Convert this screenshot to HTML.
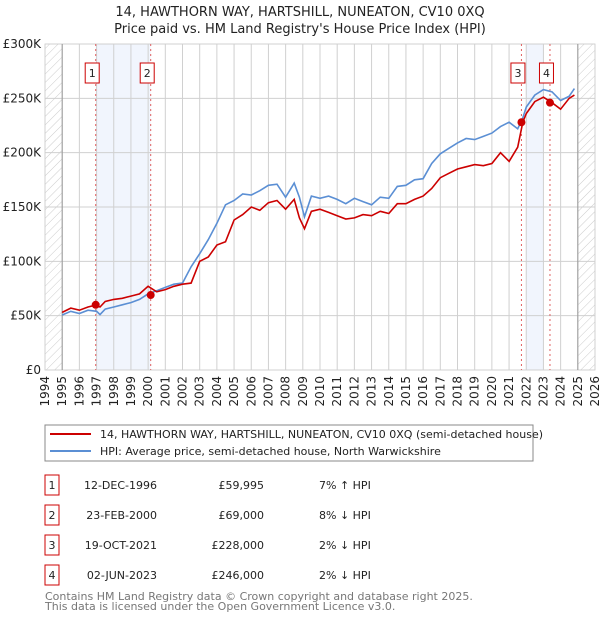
<!DOCTYPE html>
<html><head><meta charset="utf-8">
<style>
body{margin:0;background:#fff;width:600px;height:620px;overflow:hidden;font-family:"DejaVu Sans","Liberation Sans",sans-serif;}
svg text{font-family:"DejaVu Sans","Liberation Sans",sans-serif;}
</style></head>
<body>
<svg id="c" width="600" height="620" xmlns="http://www.w3.org/2000/svg">
<defs><pattern id="hatch" width="6" height="6" patternUnits="userSpaceOnUse" patternTransform="rotate(45)"><line x1="0" y1="0" x2="0" y2="6" stroke="#ccc" stroke-width="1"/></pattern></defs>
<text x="300" y="16" text-anchor="middle" font-size="13" fill="#222">14, HAWTHORN WAY, HARTSHILL, NUNEATON, CV10 0XQ</text>
<text x="300" y="33" text-anchor="middle" font-size="13" fill="#222">Price paid vs. HM Land Registry's House Price Index (HPI)</text>
<g id="plot"></g>
<g>
<rect x="45" y="425" width="488" height="36" fill="#fff" stroke="#888"/>
<line x1="50" y1="434" x2="91" y2="434" stroke="#cc0000" stroke-width="2"/>
<text x="100" y="438" font-size="11" fill="#222">14, HAWTHORN WAY, HARTSHILL, NUNEATON, CV10 0XQ (semi-detached house)</text>
<line x1="50" y1="451" x2="91" y2="451" stroke="#5b8fd4" stroke-width="2"/>
<text x="100" y="455" font-size="11" fill="#222">HPI: Average price, semi-detached house, North Warwickshire</text>
</g>
<g id="table" font-size="11" fill="#222"></g>
<text x="45" y="600" font-size="11" fill="#777">Contains HM Land Registry data © Crown copyright and database right 2025.</text>
<text x="45" y="610" font-size="11" fill="#777">This data is licensed under the Open Government Licence v3.0.</text>
</svg>
<script>
const years=[1995,1995.5,1996,1996.5,1997,1997.2,1997.5,1998,1998.5,1999,1999.5,2000,2000.5,2001,2001.5,2002,2002.5,2003,2003.5,2004,2004.5,2005,2005.5,2006,2006.5,2007,2007.5,2008,2008.5,2008.8,2009.1,2009.5,2010,2010.5,2011,2011.5,2012,2012.5,2013,2013.5,2014,2014.5,2015,2015.5,2016,2016.5,2017,2017.5,2018,2018.5,2019,2019.5,2020,2020.5,2021,2021.5,2021.8,2022,2022.5,2023,2023.5,2024,2024.5,2024.8];
const hpi=[50.6,54,52,55,54,51,56,58,60,62,65,70,73,76,79,80,95,107,120,135,152,156,162,161,165,170,171,159,172,159,141,160,158,160,157,153,158,155,152,159,158,169,170,175,176,190,199,204,209,213,212,215,218,224,228,222,232,242,253,258,256,248,252,259];
const price=[53,57,55,58,60,58,63,65,66,68,70,77,72,74,77,79,80,100,104,115,118,138,143,150,147,154,156,148,157,140,130,146,148,145,142,139,140,143,142,146,144,153,153,157,160,167,177,181,185,187,189,188,190,200,192,205,228,236,247,251,246,240,250,253];
const saleYears=[1996.95,2000.15,2021.72,2023.38];
const salePrices=[59.995,69,228,246];
const saleLabels=["1","2","3","4"];
const saleDates=["12-DEC-1996","23-FEB-2000","19-OCT-2021","02-JUN-2023"];
const salePriceText=["£59,995","£69,000","£228,000","£246,000"];
const saleDiff=["7% ↑ HPI","8% ↓ HPI","2% ↓ HPI","2% ↓ HPI"];
const yTicks=[0,50,100,150,200,250,300];
const yTickLabels=["£0","£50K","£100K","£150K","£200K","£250K","£300K"];
const xTicks=[1994,1995,1996,1997,1998,1999,2000,2001,2002,2003,2004,2005,2006,2007,2008,2009,2010,2011,2012,2013,2014,2015,2016,2017,2018,2019,2020,2021,2022,2023,2024,2025,2026];

const L=45,R=595,T=44,B=370;
const X=y=>L+(y-1994)/32*(R-L);
const Y=v=>B-v/300*(B-T);
const NS="http://www.w3.org/2000/svg";
const g=document.getElementById('plot');
function mk(tag,attrs,parent){const e=document.createElementNS(NS,tag);for(const k in attrs)e.setAttribute(k,attrs[k]);(parent||g).appendChild(e);return e;}

let e;
e=mk('rect',{x:L,y:T,width:R-L,height:B-T,fill:'#fff',stroke:'#ddd'});


e=mk('rect',{x:X(saleYears[0]),y:T,width:X(saleYears[1])-X(saleYears[0]),height:B-T,fill:'#eef3fc',opacity:0.8});


e=mk('rect',{x:X(2022),y:T,width:X(2023)-X(2022),height:B-T,fill:'#eef3fc',opacity:0.8});


xTicks.forEach(t=>{
  e=mk('line',{x1:X(t),y1:T,x2:X(t),y2:B,stroke:'#d0d0d0'});
  
  
  const tx=X(t)+4, ty=B+6;
  e=mk('text',{x:tx,y:ty,'text-anchor':'end','font-size':12,fill:'#222',transform:`rotate(-90 ${tx} ${ty})`});
  e.textContent=t;
  
  
});
yTicks.forEach((t,i)=>{
  e=mk('line',{x1:L,y1:Y(t),x2:R,y2:Y(t),stroke:'#d0d0d0'});
  
  
  e=mk('text',{x:L-4,y:Y(t)+4,'text-anchor':'end','font-size':12,fill:'#222'});
  e.textContent=yTickLabels[i];
  
  
});
e=mk('rect',{x:L,y:T,width:X(1995)-L,height:B-T,fill:'url(#hatch)'});


e=mk('rect',{x:X(2025),y:T,width:R-X(2025),height:B-T,fill:'url(#hatch)'});


mk('line',{x1:X(1995),y1:T,x2:X(1995),y2:B,stroke:'#999'});
mk('line',{x1:X(2025),y1:T,x2:X(2025),y2:B,stroke:'#999'});
saleYears.forEach((s,i)=>{
  e=mk('line',{x1:X(s),y1:T,x2:X(s),y2:B,stroke:'#e06060','stroke-dasharray':'2,3'});
  
  
  const bx=X(s)-10.5;
  e=mk('rect',{x:bx,y:63,width:14,height:20,fill:'#fff',stroke:'#cc0000'});
  
  
  e=mk('text',{x:bx+7,y:77,'text-anchor':'middle','font-size':11,fill:'#222'});
  e.textContent=saleLabels[i];
  
  
});
function path(vals){return vals.map((v,i)=>(i?'L':'M')+X(years[i]).toFixed(1)+','+Y(v).toFixed(1)).join('');}
e=mk('path',{d:path(hpi),fill:'none',stroke:'#5b8fd4','stroke-width':1.6});


e=mk('path',{d:path(price),fill:'none',stroke:'#cc0000','stroke-width':1.6});


saleYears.forEach((s,i)=>{
  e=mk('circle',{cx:X(s),cy:Y(salePrices[i]),r:4,fill:'#cc0000'});
  
  
});
const tb=document.getElementById('table');
saleLabels.forEach((l,i)=>{
  const y=485+i*30;
  e=mk('rect',{x:45,y:y-10,width:14,height:20,fill:'#fff',stroke:'#cc0000'},tb);
  
  
  e=mk('text',{x:52,y:y+4,'text-anchor':'middle'},tb);e.textContent=l;
  
  
  e=mk('text',{x:157,y:y+4,'text-anchor':'end'},tb);e.textContent=saleDates[i];
  
  
  e=mk('text',{x:264,y:y+4,'text-anchor':'end'},tb);e.textContent=salePriceText[i];
  
  
  e=mk('text',{x:319,y:y+4},tb);e.textContent=saleDiff[i];
  
  
});
</script>
</body></html>
